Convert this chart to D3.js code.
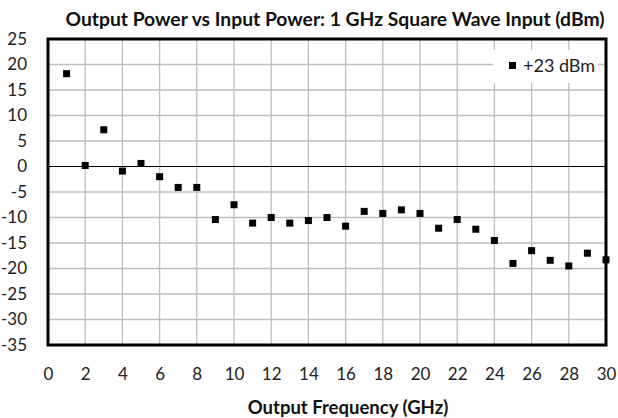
<!DOCTYPE html>
<html>
<head>
<meta charset="utf-8">
<script src="https://cdn.jsdelivr.net/npm/d3@7"></script>
<style>
  body { margin: 0; background: #fff; }
  svg text { font-family: Lato, "Open Sans", sans-serif; }
</style>
</head>
<body>
<div id="chart"></div>
<script>
// output frequency (GHz) for each harmonic
var freqs = [1, 2, 3, 4, 5, 6, 7, 8, 9, 10, 11, 12, 13, 14, 15,
             16, 17, 18, 19, 20, 21, 22, 23, 24, 25, 26, 27, 28, 29, 30];

// output power (dBm) at +23 dBm input
var power23 = [18.2, 0.2, 7.2, -0.9, 0.6, -2.0, -4.1, -4.1, -10.4, -7.5,
               -11.1, -10.0, -11.1, -10.6, -10.0, -11.7, -8.8, -9.2, -8.5, -9.2,
               -12.1, -10.4, -12.3, -14.5, -19.0, -16.5, -18.4, -19.5, -17.0, -18.3];

var xTicks = d3.range(0, 31, 2);
var yTicks = d3.range(-35, 26, 5);
var seriesName = "+23 dBm";

var width = 618,
    height = 418,
    margin = {top: 39, right: 12, bottom: 73, left: 48};

var data = freqs.map(function (f, i) {
    return {f: f, p: power23[i]};
});

var svg = d3.select("#chart")
    .append("svg")
    .attr("width", width)
    .attr("height", height);

var x = d3.scaleLinear()
    .domain([0, 30])
    .range([margin.left, width - margin.right]);

var y = d3.scaleLinear()
    .domain([-35, 25])
    .range([height - margin.bottom, margin.top]);

// grid
svg.append("g")
    .selectAll("line.vgrid")
    .data(xTicks)
    .enter().append("line")
    .attr("x1", function (d) { return x(d); })
    .attr("x2", function (d) { return x(d); })
    .attr("y1", y(25))
    .attr("y2", y(-35))
    .attr("stroke", "#bfbfbf")
    .attr("stroke-width", 1.3);

svg.append("g")
    .selectAll("line.hgrid")
    .data(yTicks)
    .enter().append("line")
    .attr("x1", x(0))
    .attr("x2", x(30))
    .attr("y1", function (d) { return y(d); })
    .attr("y2", function (d) { return y(d); })
    .attr("stroke", function (d) { return d === 0 ? "#000" : "#bfbfbf"; })
    .attr("stroke-width", function (d) { return d === 0 ? 1.2 : 1.3; });

// legend box (covers grid)
var lg = svg.append("g").attr("transform", "translate(493,50)");
lg.append("rect")
    .attr("width", 105)
    .attr("height", 33)
    .attr("fill", "#fff");
lg.append("rect")
    .attr("x", 16)
    .attr("y", 12)
    .attr("width", 7)
    .attr("height", 7)
    .attr("fill", "#000");
lg.append("text")
    .attr("x", 30)
    .attr("y", 22)
    .attr("font-size", 18)
    .attr("fill", "#222")
    .text(seriesName);

// points
svg.append("g")
    .selectAll("rect.pt")
    .data(data)
    .enter().append("rect")
    .attr("x", function (d) { return x(d.f) - 3.5; })
    .attr("y", function (d) { return y(d.p) - 3.5; })
    .attr("width", 7)
    .attr("height", 7)
    .attr("fill", "#000");

// plot border
svg.append("rect")
    .attr("x", x(0))
    .attr("y", y(25))
    .attr("width", x(30) - x(0))
    .attr("height", y(-35) - y(25))
    .attr("fill", "none")
    .attr("stroke", "#000")
    .attr("stroke-width", 3);

// axes
var xAxis = svg.append("g")
    .attr("transform", "translate(0," + (y(-35) + 20) + ")")
    .call(d3.axisBottom(x).tickValues(xTicks).tickSize(0));
xAxis.select(".domain").remove();
xAxis.selectAll("text")
    .attr("font-size", 17)
    .attr("fill", "#222")
    .style("font-family", "Lato, sans-serif");

var yAxis = svg.append("g")
    .attr("transform", "translate(" + (x(0) - 18) + ",0)")
    .call(d3.axisLeft(y).tickValues(yTicks).tickSize(0)
        .tickFormat(function (d) { return String(d); }));
yAxis.select(".domain").remove();
yAxis.selectAll("text")
    .attr("font-size", 17)
    .attr("fill", "#222")
    .style("font-family", "Lato, sans-serif");

// titles
svg.append("text")
    .attr("x", 335)
    .attr("y", 26)
    .attr("text-anchor", "middle")
    .attr("font-size", 19.3)
    .attr("font-weight", "bold")
    .attr("fill", "#111")
    .text("Output Power vs Input Power: 1 GHz Square Wave Input (dBm)");

svg.append("text")
    .attr("x", 348)
    .attr("y", 414)
    .attr("text-anchor", "middle")
    .attr("font-size", 18.5)
    .attr("font-weight", "bold")
    .attr("fill", "#111")
    .text("Output Frequency (GHz)");
</script>
</body>
</html>
